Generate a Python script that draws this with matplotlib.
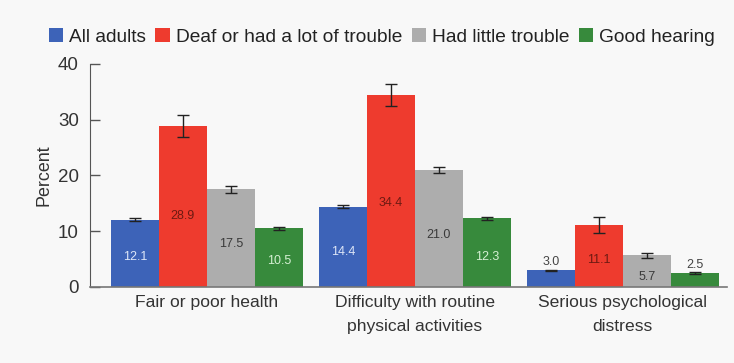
import matplotlib
matplotlib.use("Agg")
import matplotlib.pyplot as plt
import numpy as np

plt.rcParams['font.family'] = ['Liberation Sans', 'DejaVu Sans']

categories = ["Fair or poor health",
              "Difficulty with routine\nphysical activities",
              "Serious psychological\ndistress"]
series = ["All adults", "Deaf or had a lot of trouble", "Had little trouble", "Good hearing"]
all_adults = [12.1, 14.4, 3.0]
deaf_lot = [28.9, 34.4, 11.1]
little_trouble = [17.5, 21.0, 5.7]
good_hearing = [10.5, 12.3, 2.5]
err_all = [0.3, 0.3, 0.1]
err_deaf = [2.0, 2.0, 1.5]
err_little = [0.7, 0.6, 0.45]
err_good = [0.3, 0.2, 0.15]

values = [all_adults, deaf_lot, little_trouble, good_hearing]
errors = [err_all, err_deaf, err_little, err_good]
colors = ["#3d63b8", "#ee3b2e", "#adadad", "#378a3c"]
label_colors = ["#dde6f7", "#6e1a12", "#3a3a3a", "#d5f0d3"]

fig = plt.figure(figsize=(7.34, 3.63), dpi=100)
fig.patch.set_facecolor("#f8f8f8")
ax = fig.add_axes([0.1226, 0.2094, 0.8674, 0.6143])
ax.set_facecolor("none")

x = np.arange(len(categories))
w = 0.2308
for i, (vals, errs) in enumerate(zip(values, errors)):
    pos = x + (i - 1.5) * w
    ax.bar(pos, vals, width=w, color=colors[i], label=series[i], zorder=2)
    ax.errorbar(pos, vals, yerr=errs, fmt="none", ecolor="#222222",
                elinewidth=1.0, capsize=4, capthick=1.0, zorder=3)
    for p, v, e in zip(pos, vals, errs):
        if v < 4:
            ax.text(p, v + e + 1.3, f"{v:.1f}", ha="center", va="center",
                    fontsize=9, color="#444444")
        else:
            ax.text(p, v * 0.44 if v > 6 else v * 0.32, f"{v:.1f}",
                    ha="center", va="center", fontsize=9, color=label_colors[i])

ax.set_xlim(-0.5625, 0.5 + 2)
ax.set_ylim(0, 40)
ax.set_yticks([0, 10, 20, 30, 40])
ax.set_xticks(x)
ax.set_xticklabels(categories, fontsize=12.6, color="#333333", linespacing=1.7)
ax.tick_params(axis="x", length=0, pad=6)
ax.tick_params(axis="y", direction="in", length=7, width=1, color="#555555",
               labelsize=13.5, labelcolor="#333333", pad=8)
ax.set_ylabel("Percent", fontsize=12.9, color="#333333", labelpad=4)
for s in ["top", "right"]:
    ax.spines[s].set_visible(False)
ax.spines["left"].set_color("#555555")
ax.spines["bottom"].set_color("#777777")
ax.spines["bottom"].set_linewidth(1.2)

leg = fig.legend(loc="center", bbox_to_anchor=(0.52, 0.898), ncol=4, frameon=False,
                 fontsize=13.8, handlelength=0.75, handleheight=0.75, handletextpad=0.3,
                 columnspacing=0.5)
for t in leg.get_texts():
    t.set_color("#222222")

fig.savefig("out.png", dpi=100, facecolor=fig.get_facecolor())
